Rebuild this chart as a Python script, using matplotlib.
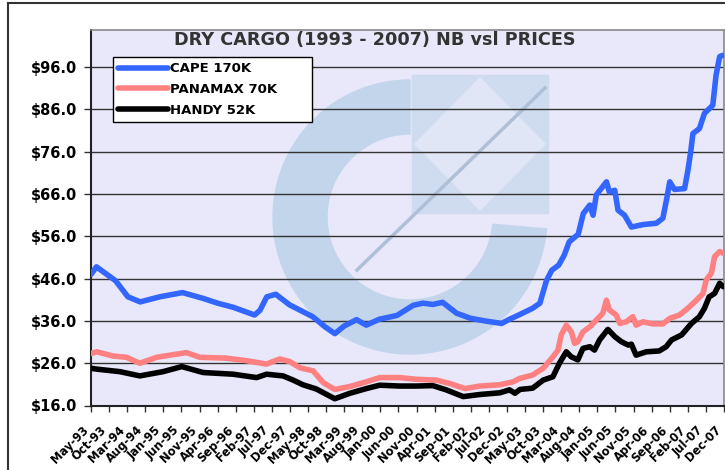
import numpy as np
import matplotlib.pyplot as plt
from matplotlib.patches import Wedge, Rectangle, Polygon
from matplotlib.lines import Line2D
from matplotlib.transforms import IdentityTransform, ScaledTranslation

plt.rcParams['font.family'] = ['DejaVu Sans']

# x values: months since May-93
tick_labels = ["May-93", "Oct-93", "Mar-94", "Aug-94", "Jan-95", "Jun-95", "Nov-95", "Apr-96",
               "Sep-96", "Feb-97", "Jul-97", "Dec-97", "May-98", "Oct-98", "Mar-99", "Aug-99",
               "Jan-00", "Jun-00", "Nov-00", "Apr-01", "Sep-01", "Feb-02", "Jul-02", "Dec-02",
               "May-03", "Oct-03", "Mar-04", "Aug-04", "Jan-05", "Jun-05", "Nov-05", "Apr-06",
               "Sep-06", "Feb-07", "Jul-07", "Dec-07"]

cape_m = [0, 1.5, 3.9, 6.8, 10.2, 13.6, 19.0, 25.3, 31.1, 35.0, 39.4, 45.2, 46.7, 48.6, 51.1,
          54.9, 61.3, 64.7, 67.4, 70.0, 73.4, 76.1, 79.7, 84.6, 89.1, 91.8, 94.5, 97.2, 101.1,
          105.0, 108.9, 113.5, 115.7, 118.5, 122.1, 124.1, 125.9, 127.4, 129.3, 130.8, 132.2,
          134.7, 136.1, 137.9, 138.8, 139.7, 142.5, 143.3, 144.8, 145.7, 147.5, 149.4, 152.7,
          156.3, 158.1, 159.1, 160.0, 161.3, 164.1, 165.0, 165.8, 166.4, 168.2, 169.6, 171.9,
          172.8, 173.8, 174.6]
cape = [47.0, 48.8, 47.3, 45.5, 41.7, 40.5, 41.7, 42.7, 41.3, 40.2, 39.2, 37.4, 38.5, 41.7, 42.3,
        39.8, 37.0, 34.6, 33.0, 34.8, 36.3, 35.0, 36.4, 37.3, 39.7, 40.2, 39.9, 40.4, 37.8,
        36.6, 36.0, 35.4, 36.4, 37.5, 39.0, 40.2, 45.5, 48.0, 49.2, 51.5, 54.7,
        56.5, 61.4, 63.4, 61.0, 65.8, 68.9, 66.5, 66.9, 62.2, 61.0, 58.2, 58.8,
        59.1, 60.3, 64.6, 68.9, 67.1, 67.3, 71.5, 76.0, 80.3, 81.5, 85.1, 87.0,
        94.1, 98.5, 98.8]

panamax_m = [0, 1.6, 6.1, 9.8, 13.5, 18.2, 21.8, 26.4, 30.1, 37.4, 43.0, 48.5, 52.2, 54.9, 57.8,
             61.4, 64.2, 67.4, 71.6, 76.1, 79.8, 85.4, 89.9, 95.5, 99.2, 103.4, 107.5, 113.0,
             116.7, 118.5, 122.1, 125.0, 127.7, 129.1, 130.0, 131.4, 132.8, 133.7, 134.6, 136.0,
             137.9, 139.7, 141.5, 142.5, 143.3, 145.2, 146.2, 148.0, 149.8, 150.7, 152.6, 155.3,
             158.1, 160.0, 162.7, 165.0, 166.9, 169.2, 170.1, 171.5, 172.4, 173.8, 174.8]
panamax = [28.3, 28.7, 27.7, 27.4, 26.0, 27.4, 27.9, 28.5, 27.4, 27.2, 26.6, 25.8, 27.0, 26.4, 24.9,
           24.2, 21.4, 19.8, 20.5, 21.6, 22.6, 22.6, 22.2, 22.0, 21.2, 20.0, 20.6, 20.9,
           21.6, 22.4, 23.2, 24.8, 27.5, 29.1, 32.7, 35.0, 33.4, 30.7, 31.1, 33.4,
           34.6, 36.2, 37.8, 40.9, 38.6, 37.4, 35.4, 35.8, 37.0, 35.0, 35.8, 35.3,
           35.3, 36.6, 37.4, 39.0, 40.5, 42.5, 45.7, 47.3, 51.2, 52.4, 52.0]

handy_m = [0, 1.6, 8.0, 13.5, 19.9, 25.1, 31.0, 39.3, 45.8, 48.5, 53.1, 55.9, 58.6, 62.3, 67.4,
           71.6, 76.1, 79.8, 85.4, 89.9, 94.5, 98.2, 102.9, 107.5, 113.0, 115.7, 117.2, 118.6,
           122.1, 125.0, 127.7, 129.5, 131.4, 132.8, 134.6, 136.0, 137.9, 139.2, 140.6, 142.9,
           144.8, 146.6, 148.5, 149.4, 150.7, 153.5, 157.1, 159.0, 160.5, 163.3, 166.0, 168.2,
           169.6, 170.9, 172.4, 173.8, 174.8]
handy = [24.8, 24.6, 24.0, 23.0, 24.0, 25.2, 23.8, 23.4, 22.6, 23.4, 23.0, 22.0, 20.9, 19.9, 17.6,
         18.9, 20.0, 20.8, 20.6, 20.6, 20.7, 19.7, 18.1, 18.6, 19.0, 19.7, 18.9, 19.8,
         20.1, 22.0, 22.8, 26.0, 28.7, 27.5, 26.8, 29.5, 29.9, 29.1, 31.5, 34.0,
         32.3, 31.1, 30.3, 30.5, 27.9, 28.7, 28.9, 29.9, 31.5, 32.7, 35.4, 37.0,
         39.0, 41.7, 42.5, 44.9, 44.1]

y_ticks = np.arange(16, 97, 10)

fig = plt.figure(figsize=(7.25, 4.7), dpi=100)
ax = fig.add_axes([91 / 725, 1 - 405.5 / 470, 633 / 725, 375.5 / 470])
ax.set_facecolor('#E8E8FA')

# faint logo watermark behind the plot
H = 470
ring = Wedge((410, H - 217), 137, 90, 355, width=54, color='#C3D5EB', zorder=0.2,
             transform=IdentityTransform())
sq = Rectangle((412, H - 213), 136, 138, color='#CFDCEF', zorder=0.2, transform=IdentityTransform())
dia = Polygon([(480, H - 78), (545, H - 144), (480, H - 210), (415, H - 144)], closed=True,
              color='#E0E6F6', zorder=0.25, transform=IdentityTransform())
for p in (ring, sq, dia):
    ax.add_patch(p)
    p.set_clip_path(ax.patch)
diag = Line2D([357, 545], [H - 270, H - 88], color='#AEBFD6', lw=2.5, zorder=0.3,
              transform=IdentityTransform())
ax.add_line(diag)
diag.set_clip_path(ax.patch)

ax.plot(cape_m, cape, color='#3366FF', lw=4, label='CAPE 170K', solid_capstyle='round', zorder=3)
ax.plot(panamax_m, panamax, color='#FF8080', lw=4, label='PANAMAX 70K', solid_capstyle='round', zorder=3)
ax.plot(handy_m, handy, color='black', lw=4, label='HANDY 52K', solid_capstyle='round', zorder=3)

ax.set_xlim(0, 175)
ax.set_ylim(16, 104.8)
ax.tick_params(axis='y', length=5, width=1, pad=5, color='#333333')
ax.tick_params(axis='x', length=4, width=1, pad=9, color='#333333')
ax.set_yticks(y_ticks)
ax.set_yticklabels(['$%.1f' % v for v in y_ticks], fontsize=10.5, fontweight='bold')
ax.set_xticks(np.arange(0, 176, 5))
ax.set_xticklabels(tick_labels, rotation=45, ha='right', va='top', rotation_mode='anchor',
                   fontsize=8.3, fontweight='bold')
# nudge the slanted date labels to the left of their ticks
shift = ScaledTranslation(-9 / 100, 0, fig.dpi_scale_trans)
for lab in ax.get_xticklabels():
    lab.set_transform(lab.get_transform() + shift)

ax.set_axisbelow(True)
ax.yaxis.grid(True, color='#333333', lw=1)
for s in ('top', 'right'):
    ax.spines[s].set_color('#888888')
    ax.spines[s].set_linewidth(1.2)
for s in ('left', 'bottom'):
    ax.spines[s].set_color('#222222')
    ax.spines[s].set_linewidth(1.5)

fig.text(0.5166, 1 - 40 / 470, 'DRY CARGO (1993 - 2007) NB vsl PRICES', ha='center', va='center',
         fontsize=12.7, fontweight='bold', color='#333333')

leg = ax.legend(loc='upper left', bbox_to_anchor=(113 / 725, 1 - 121 / 470, 199 / 725, 64 / 470),
                bbox_transform=fig.transFigure, mode='expand',
                fancybox=False, framealpha=1, edgecolor='black', borderpad=0.4, handlelength=3.8,
                handletextpad=0.15, labelspacing=0.58, borderaxespad=0,
                prop={'weight': 'bold', 'size': 9.5})
leg.get_frame().set_linewidth(1)
leg.set_zorder(5)

# outer chart border (cropped at right/bottom)
fig.add_artist(Line2D([8 / 725, 8 / 725], [0, 1 - 3 / 470], transform=fig.transFigure, color='#333333', lw=1.5))
fig.add_artist(Line2D([8 / 725, 1], [1 - 3 / 470, 1 - 3 / 470], transform=fig.transFigure, color='#333333', lw=1.5))

fig.savefig('out.png', dpi=100)
